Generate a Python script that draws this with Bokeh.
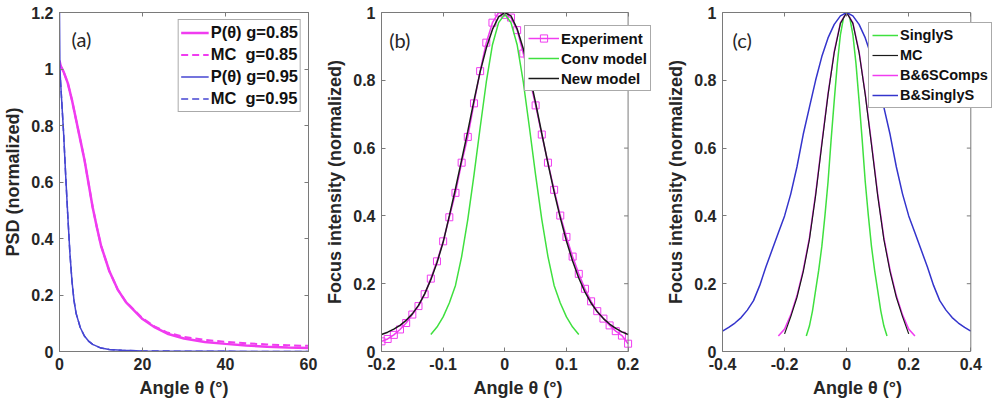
import math
from bokeh.plotting import figure
from bokeh.layouts import row
from bokeh.models import LinearAxis, Range1d, FixedTicker, Legend, LegendItem, Label, Span
from bokeh.embed import file_html
from bokeh.resources import INLINE

# ---------------- data: panel (a) ----------------
a_x085 = [0, 0.3, 1, 2, 3, 4, 5, 6, 7, 8, 9, 10, 12, 14, 16, 18, 20, 23, 26, 30, 35, 40, 45, 50, 55, 60]
a_p085 = [1.03, 1.01, 0.99, 0.95, 0.89, 0.82, 0.75, 0.68, 0.595, 0.51, 0.44, 0.375, 0.285, 0.22, 0.175,
          0.145, 0.115, 0.085, 0.063, 0.046, 0.034, 0.027, 0.021, 0.017, 0.014, 0.012]
a_mc085 = [1.02, 1.01, 0.99, 0.95, 0.89, 0.82, 0.75, 0.68, 0.595, 0.51, 0.44, 0.375, 0.285, 0.22, 0.176,
           0.147, 0.118, 0.088, 0.067, 0.052, 0.041, 0.034, 0.029, 0.025, 0.022, 0.020]
a_x095 = [0, 0.1, 0.4, 1, 1.5, 2, 2.5, 3, 3.5, 4, 5, 6, 7, 8, 10, 12, 15, 20, 30, 40, 60]
a_p095 = [1.2, 1.0, 0.92, 0.77, 0.62, 0.48, 0.35, 0.25, 0.18, 0.135, 0.085, 0.055, 0.037, 0.025,
          0.012, 0.007, 0.004, 0.002, 0.001, 0.0005, 0.0]
a_mc095 = [1.0, 0.99, 0.92, 0.77, 0.62, 0.48, 0.35, 0.25, 0.18, 0.135, 0.085, 0.055, 0.037, 0.025,
           0.012, 0.007, 0.004, 0.002, 0.001, 0.0005, 0.0]

# ---------------- data: panel (b) ----------------
b_exp_x = [-0.20, -0.19, -0.18, -0.17, -0.16, -0.15, -0.14, -0.13, -0.12, -0.11, -0.10, -0.09, -0.08,
           -0.07, -0.06, -0.05, -0.04, -0.03, -0.02, -0.01, 0.00, 0.01, 0.02, 0.03, 0.04, 0.05, 0.06,
           0.07, 0.08, 0.09, 0.10, 0.11, 0.12, 0.13, 0.14, 0.15, 0.16, 0.17, 0.18, 0.19, 0.20]
b_exp_y = [0.030, 0.037, 0.049, 0.065, 0.084, 0.109, 0.134, 0.169, 0.215, 0.266, 0.325, 0.396, 0.468,
           0.557, 0.633, 0.732, 0.827, 0.911, 0.970, 1.000, 0.993, 0.985, 0.948, 0.879, 0.805, 0.726,
           0.640, 0.557, 0.477, 0.401, 0.338, 0.280, 0.229, 0.185, 0.148, 0.119, 0.097, 0.077, 0.060,
           0.047, 0.023]
b_new_x = b_exp_x
b_new_y = [0.050, 0.057, 0.066, 0.077, 0.092, 0.111, 0.136, 0.170, 0.212, 0.262, 0.322, 0.400, 0.480,
           0.565, 0.650, 0.740, 0.825, 0.895, 0.950, 0.987, 1.000, 0.990, 0.952, 0.893, 0.818, 0.733,
           0.643, 0.555, 0.471, 0.395, 0.326, 0.267, 0.217, 0.176, 0.143, 0.117, 0.097, 0.081, 0.068,
           0.058, 0.050]
b_conv_x = [-0.12, -0.11, -0.10, -0.09, -0.08, -0.07, -0.06, -0.05, -0.04, -0.03, -0.02, -0.01, 0.0,
            0.01, 0.02, 0.03, 0.04, 0.05, 0.06, 0.07, 0.08, 0.09, 0.10, 0.11, 0.12]
b_conv_y = [0.050, 0.072, 0.102, 0.143, 0.195, 0.280, 0.390, 0.520, 0.660, 0.795, 0.905, 0.970, 0.995,
            0.970, 0.905, 0.795, 0.660, 0.520, 0.390, 0.280, 0.195, 0.143, 0.102, 0.072, 0.050]

# ---------------- data: panel (c) ----------------
c_bs_x = [-0.40, -0.38, -0.36, -0.34, -0.32, -0.30, -0.28, -0.26, -0.24, -0.22, -0.20, -0.18, -0.16,
          -0.14, -0.12, -0.10, -0.08, -0.06, -0.04, -0.02, 0.0, 0.02, 0.04, 0.06, 0.08, 0.10, 0.12,
          0.14, 0.16, 0.18, 0.20, 0.22, 0.24, 0.26, 0.28, 0.30, 0.32, 0.34, 0.36, 0.38, 0.40]
c_bs_y = [0.060, 0.071, 0.084, 0.100, 0.122, 0.150, 0.195, 0.250, 0.300, 0.350, 0.400, 0.465, 0.545,
          0.640, 0.720, 0.800, 0.870, 0.925, 0.965, 0.990, 1.000, 0.990, 0.965, 0.925, 0.870, 0.800,
          0.720, 0.640, 0.545, 0.465, 0.400, 0.350, 0.300, 0.250, 0.195, 0.150, 0.122, 0.100, 0.084,
          0.071, 0.060]
c_b6_x = [-0.22, -0.20, -0.18, -0.16, -0.14, -0.12, -0.10, -0.08, -0.06, -0.04, -0.02, 0.0,
          0.02, 0.04, 0.06, 0.08, 0.10, 0.12, 0.14, 0.16, 0.18, 0.20, 0.22]
c_b6_y = [0.046, 0.066, 0.108, 0.165, 0.240, 0.335, 0.465, 0.615, 0.760, 0.885, 0.970, 1.000,
          0.970, 0.885, 0.760, 0.615, 0.465, 0.335, 0.240, 0.165, 0.108, 0.066, 0.046]
c_mc_x = [-0.20, -0.18, -0.16, -0.14, -0.12, -0.10, -0.08, -0.06, -0.04, -0.02, 0.0,
          0.02, 0.04, 0.06, 0.08, 0.10, 0.12, 0.14, 0.16, 0.18, 0.20]
c_mc_y = [0.052, 0.103, 0.160, 0.235, 0.330, 0.460, 0.610, 0.757, 0.882, 0.968, 1.000,
          0.968, 0.882, 0.757, 0.610, 0.460, 0.330, 0.235, 0.160, 0.103, 0.052]
c_ss_x = [-0.13, -0.12, -0.11, -0.10, -0.09, -0.08, -0.07, -0.06, -0.05, -0.04, -0.03, -0.02, -0.01, 0.0,
          0.01, 0.02, 0.03, 0.04, 0.05, 0.06, 0.07, 0.08, 0.09, 0.10, 0.11, 0.12, 0.13]
c_ss_y = [0.046, 0.075, 0.120, 0.180, 0.240, 0.310, 0.400, 0.500, 0.625, 0.740, 0.850, 0.935, 0.985, 1.0,
          0.985, 0.935, 0.850, 0.740, 0.625, 0.500, 0.400, 0.310, 0.240, 0.180, 0.120, 0.075, 0.046]

# ---------------- ticks ----------------
a_xticks = [0, 20, 40, 60]
a_xlabels = ["0", "20", "40", "60"]
a_yticks = [0, 0.2, 0.4, 0.6, 0.8, 1.0, 1.2]
a_ylabels = ["0", "0.2", "0.4", "0.6", "0.8", "1", "1.2"]
b_xticks = [-0.2, -0.1, 0, 0.1, 0.2]
b_xlabels = ["-0.2", "-0.1", "0", "0.1", "0.2"]
c_xticks = [-0.4, -0.2, 0, 0.2, 0.4]
c_xlabels = ["-0.4", "-0.2", "0", "0.2", "0.4"]
bc_yticks = [0, 0.2, 0.4, 0.6, 0.8, 1.0]
bc_ylabels = ["0", "0.2", "0.4", "0.6", "0.8", "1"]

MAG = "#f03cf0"
BLUE_A = "#4646d2"
BLUE_C = "#3434cc"
GREEN = "#3fe03f"
BLACK = "#1a1a1a"
FONT = "Liberation Sans"
GRAY = "#7a7a7a"
HEIGHT = 404
TOP, BOTTOM = 12, 53


def make_fig(width, left, right, xbox, yr, xticks, xlabels, yticks, ylabels, ylabel, box_px=None):
    """xbox: axis box x-limits; box_px: pixel width of the box when the frame is wider (legend room)."""
    frame_w = width - left - right
    if box_px is None:
        xr = xbox
    else:
        span = (xbox[1] - xbox[0]) * frame_w / box_px
        xr = (xbox[0], xbox[0] + span)
    p = figure(width=width, height=HEIGHT, x_range=Range1d(*xr), y_range=Range1d(*yr),
               output_backend="svg", toolbar_location=None,
               min_border_left=left, min_border_right=right,
               min_border_top=TOP, min_border_bottom=BOTTOM)
    p.grid.visible = False
    p.background_fill_color = "white"
    p.border_fill_color = "white"
    for ax, ticks, labels in ((p.xaxis[0], xticks, xlabels), (p.yaxis[0], yticks, ylabels)):
        ax.ticker = FixedTicker(ticks=ticks)
        ax.major_label_overrides = {t: l for t, l in zip(ticks, labels)}
        ax.major_tick_in = 4
        ax.major_tick_out = 0
        ax.minor_tick_line_color = None
        ax.axis_line_color = GRAY
        ax.major_tick_line_color = GRAY
        ax.major_label_text_font = FONT
        ax.major_label_text_font_style = "bold"
        ax.major_label_text_font_size = "16px"
        ax.major_label_text_color = "#262626"
        ax.axis_label_text_font = FONT
        ax.axis_label_text_font_style = "bold"
        ax.axis_label_text_font_size = "18px"
        ax.axis_label_text_color = "#262626"
        ax.major_label_standoff = 6
        ax.axis_label_standoff = 5
    p.xaxis[0].axis_label = "Angle θ (°)"
    p.yaxis[0].axis_label = ylabel
    p.xaxis[0].bounds = xbox
    top = LinearAxis(ticker=FixedTicker(ticks=xticks), bounds=xbox,
                     major_label_overrides={t: "" for t in xticks},
                     major_label_text_font_size="0px", major_label_standoff=0,
                     major_tick_in=4, major_tick_out=0, minor_tick_line_color=None,
                     axis_line_color=GRAY, major_tick_line_color=GRAY)
    p.add_layout(top, "above")
    if box_px is None:
        p.outline_line_color = GRAY
        rax = LinearAxis(ticker=FixedTicker(ticks=yticks),
                         major_label_overrides={t: "" for t in yticks},
                         major_label_text_font_size="0px", major_label_standoff=0,
                         major_tick_in=4, major_tick_out=0, minor_tick_line_color=None,
                         axis_line_color=GRAY, major_tick_line_color=GRAY)
        p.add_layout(rax, "right")
    else:
        p.outline_line_color = None
        p.add_layout(Span(location=xbox[1], dimension="height", line_color=GRAY, line_width=1))
        p.ray(x=[xbox[1]] * len(yticks), y=yticks, length=4, length_units="screen",
              angle=math.pi, line_color=GRAY, line_width=1)
    return p


def style_legend(leg, size, lh, sp, gw=28, pad=3):
    leg.label_text_font = FONT
    leg.label_text_font_style = "bold"
    leg.label_text_font_size = size
    leg.label_text_color = "#111111"
    leg.border_line_color = "#555555"
    leg.border_line_width = 1
    leg.background_fill_color = "white"
    leg.background_fill_alpha = 1.0
    leg.glyph_width = gw
    leg.glyph_height = lh
    leg.label_height = lh
    leg.label_standoff = 2
    leg.padding = pad
    leg.spacing = sp
    leg.margin = 0


# ---------------- panel (a) ----------------
pa = make_fig(322, 59, 14, (0, 60), (0, 1.2), a_xticks, a_xlabels,
              a_yticks, a_ylabels, "PSD (normalized)")
r1 = pa.line(a_x085, a_p085, line_color=MAG, line_width=2.5)
r2 = pa.line(a_x085, a_mc085, line_color=MAG, line_width=2, line_dash="7 4")
r3 = pa.line(a_x095, a_p095, line_color=BLUE_A, line_width=1.5)
r4 = pa.line(a_x095, a_mc095, line_color=BLUE_A, line_width=1.5, line_dash="7 4")
leg_a = Legend(items=[LegendItem(label="P(θ) g=0.85", renderers=[r1]),
                      LegendItem(label="MC  g=0.85", renderers=[r2]),
                      LegendItem(label="P(θ) g=0.95", renderers=[r3]),
                      LegendItem(label="MC  g=0.95", renderers=[r4])],
               location="top_right")
style_legend(leg_a, "16.5px", 21, 1, pad=2)
leg_a.margin = 7
pa.add_layout(leg_a)
pa.add_layout(Label(x=2.9, y=1.105, text="(a)", text_font="Lato", text_font_size="20px",
                    text_color="#262626", text_baseline="middle"))

# ---------------- panel (b) ----------------
pb = make_fig(334, 57, 2, (-0.2, 0.2), (0, 1.0), b_xticks, b_xlabels,
              bc_yticks, bc_ylabels, "Focus intensity (normalized)", box_px=248.4)
rb1 = pb.line(b_exp_x, b_exp_y, line_color=MAG, line_width=1.5)
rb1s = pb.scatter(b_exp_x, b_exp_y, marker="square", size=7, fill_color=None,
                  line_color=MAG, line_width=1)
rb2 = pb.line(b_conv_x, b_conv_y, line_color=GREEN, line_width=1.5)
rb3 = pb.line(b_new_x, b_new_y, line_color=BLACK, line_width=1.5)
leg_b = Legend(items=[LegendItem(label="Experiment", renderers=[rb1, rb1s]),
                      LegendItem(label="Conv model", renderers=[rb2]),
                      LegendItem(label="New model", renderers=[rb3])],
               location=(143, 260))
style_legend(leg_b, "15px", 18, 2, gw=31)
pb.add_layout(leg_b)
pb.add_layout(Label(x=-0.1876, y=0.918, text="(b)", text_font="Lato", text_font_size="20px",
                    text_color="#262626", text_baseline="middle"))

# ---------------- panel (c) ----------------
pc = make_fig(336, 66, 0, (-0.4, 0.4), (0, 1.0), c_xticks, c_xlabels,
              bc_yticks, bc_ylabels, "Focus intensity (normalized)", box_px=248.3)
rc1 = pc.line(c_ss_x, c_ss_y, line_color=GREEN, line_width=1.5)
rc3 = pc.line(c_b6_x, c_b6_y, line_color=MAG, line_width=1.5)
rc2 = pc.line(c_mc_x, c_mc_y, line_color=BLACK, line_width=1.2)
rc4 = pc.line(c_bs_x, c_bs_y, line_color=BLUE_C, line_width=1.5)
leg_c = Legend(items=[LegendItem(label="SinglyS", renderers=[rc1]),
                      LegendItem(label="MC", renderers=[rc2]),
                      LegendItem(label="B&6SComps", renderers=[rc3]),
                      LegendItem(label="B&SinglyS", renderers=[rc4])],
               location=(146, 243))
style_legend(leg_c, "14.5px", 18, 2, gw=26)
pc.add_layout(leg_c)
pc.add_layout(Label(x=-0.368, y=0.918, text="(c)", text_font="Lato", text_font_size="20px",
                    text_color="#262626", text_baseline="middle"))

layout = row(pa, pb, pc)
open("out.html", "w").write(file_html(layout, INLINE))
